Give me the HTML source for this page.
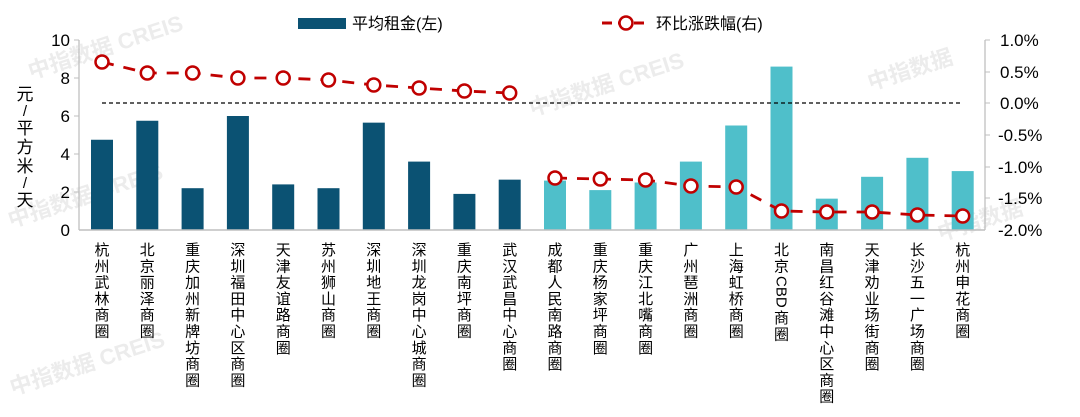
<!DOCTYPE html>
<html><head><meta charset="utf-8"><style>
html,body{margin:0;background:#fff;overflow:hidden;width:1080px;height:417px;}
svg{display:block;}
svg text{font-family:"Liberation Sans","Noto Sans CJK SC",sans-serif;}
</style></head><body>
<svg width="1080" height="417" viewBox="0 0 1080 417" xmlns="http://www.w3.org/2000/svg">
<rect width="1080" height="417" fill="#fff"/>
<g fill="#ececec" font-size="22" font-weight="bold" transform="rotate(-18)">
<text x="5" y="85">中指数据 CREIS</text>
<text x="470" y="275">中指数据 CREIS</text>
<text x="-60" y="220">中指数据 CREIS</text>
<text x="-110" y="380">中指数据 CREIS</text>
<text x="800" y="355">中指数据</text>
<text x="820" y="520">中指数据</text>
</g>
<rect x="298" y="18" width="48" height="11" fill="#0b5273"/>
<text x="352" y="29" font-size="16" fill="#000">平均租金(左)</text>
<line x1="602" y1="23" x2="650" y2="23" stroke="#c00000" stroke-width="3" stroke-dasharray="10,6"/>
<circle cx="626" cy="23" r="6.5" fill="#fff" stroke="#c00000" stroke-width="2.5"/>
<text x="656" y="29" font-size="16" fill="#000">环比涨跌幅(右)</text>
<line x1="79" y1="40" x2="79" y2="230" stroke="#bfbfbf" stroke-width="1.3"/>
<g stroke="#bfbfbf"><line x1="74" y1="40" x2="79" y2="40"/><line x1="74" y1="78" x2="79" y2="78"/><line x1="74" y1="116" x2="79" y2="116"/><line x1="74" y1="154" x2="79" y2="154"/><line x1="74" y1="192" x2="79" y2="192"/></g>
<line x1="985" y1="40" x2="985" y2="230" stroke="#bfbfbf" stroke-width="1.3"/>
<g stroke="#bfbfbf"><line x1="985" y1="40" x2="990" y2="40"/><line x1="985" y1="72" x2="990" y2="72"/><line x1="985" y1="103" x2="990" y2="103"/><line x1="985" y1="135" x2="990" y2="135"/><line x1="985" y1="167" x2="990" y2="167"/><line x1="985" y1="198" x2="990" y2="198"/></g>
<g font-size="17" fill="#000" text-anchor="end">
<text x="70" y="46">10</text><text x="70" y="84">8</text><text x="70" y="122">6</text><text x="70" y="160">4</text><text x="70" y="198">2</text><text x="70" y="236">0</text>
</g>
<g font-size="17" fill="#000">
<text x="1000" y="46">1.0%</text><text x="1000" y="78">0.5%</text><text x="1000" y="109">0.0%</text><text x="998" y="141">-0.5%</text><text x="998" y="173">-1.0%</text><text x="998" y="204">-1.5%</text><text x="998" y="236">-2.0%</text>
</g>
<g font-size="17" fill="#000" text-anchor="middle">
<text x="25" y="100">元</text>
<text x="25" y="116" font-size="15">/</text>
<text x="25" y="134">平</text><text x="25" y="153">方</text><text x="25" y="172">米</text>
<text x="25" y="188" font-size="15">/</text>
<text x="25" y="206">天</text>
</g>
</svg>
<script>
var names=["杭州武林商圈","北京丽泽商圈","重庆加州新牌坊商圈","深圳福田中心区商圈","天津友谊路商圈","苏州狮山商圈","深圳地王商圈","深圳龙岗中心城商圈","重庆南坪商圈","武汉武昌中心商圈","成都人民南路商圈","重庆杨家坪商圈","重庆江北嘴商圈","广州琶洲商圈","上海虹桥商圈","北京CBD商圈","南昌红谷滩中心区商圈","天津劝业场街商圈","长沙五一广场商圈","杭州申花商圈"];
var vals=[4.75,5.75,2.2,6.0,2.4,2.2,5.65,3.6,1.9,2.65,2.6,2.1,2.5,3.6,5.5,8.6,1.65,2.8,3.8,3.1];
var ly=[62,73,73,78,78,80,85,88,91,93,178,179,180,186,187,211,212,212,215,216];
var ns="http://www.w3.org/2000/svg",svg=document.querySelector("svg");
function el(t,a,txt){var e=document.createElementNS(ns,t);for(var k in a)e.setAttribute(k,a[k]);if(txt)e.textContent=txt;svg.appendChild(e);return e;}
var cx=[];
for(var i=0;i<20;i++){var x=102+i*45.3;cx.push(x);
var h=vals[i]*19;el("rect",{x:x-11,y:230-h,width:22,height:h,fill:i<10?"#0b5273":"#4fbfca"});
var s=names[i];
if(i==15){
 el("text",{x:x,y:255,"font-size":15,"text-anchor":"middle"},"北");
 el("text",{x:x,y:271.3,"font-size":15,"text-anchor":"middle"},"京");
 el("text",{x:0,y:0,"font-size":15,transform:"translate("+(x-5)+",276) rotate(90)"},"CBD");
 el("text",{x:x,y:323,"font-size":15,"text-anchor":"middle"},"商");
 el("text",{x:x,y:339.3,"font-size":15,"text-anchor":"middle"},"圈");
 continue;}
for(var j=0;j<s.length;j++)el("text",{x:x,y:255+j*16.3,"font-size":15,"text-anchor":"middle",fill:"#000"},s[j]);}
el("line",{x1:79,y1:230,x2:985,y2:230,stroke:"#bfbfbf","stroke-width":1.5});
el("line",{x1:102,y1:103,x2:961,y2:103,stroke:"#000","stroke-width":1.3,"stroke-dasharray":"4,3"});
function path(a,b){var p="";for(var i=a;i<b;i++)p+=(i>a?"L":"M")+cx[i]+" "+ly[i];
el("path",{d:p,fill:"none",stroke:"#c00000","stroke-width":2.8,"stroke-dasharray":"12,10"});}
path(0,10);path(10,20);
for(var i=0;i<20;i++)el("circle",{cx:cx[i],cy:ly[i],r:6.5,fill:"#fff",stroke:"#c00000","stroke-width":2.5});
</script>
</body></html>
